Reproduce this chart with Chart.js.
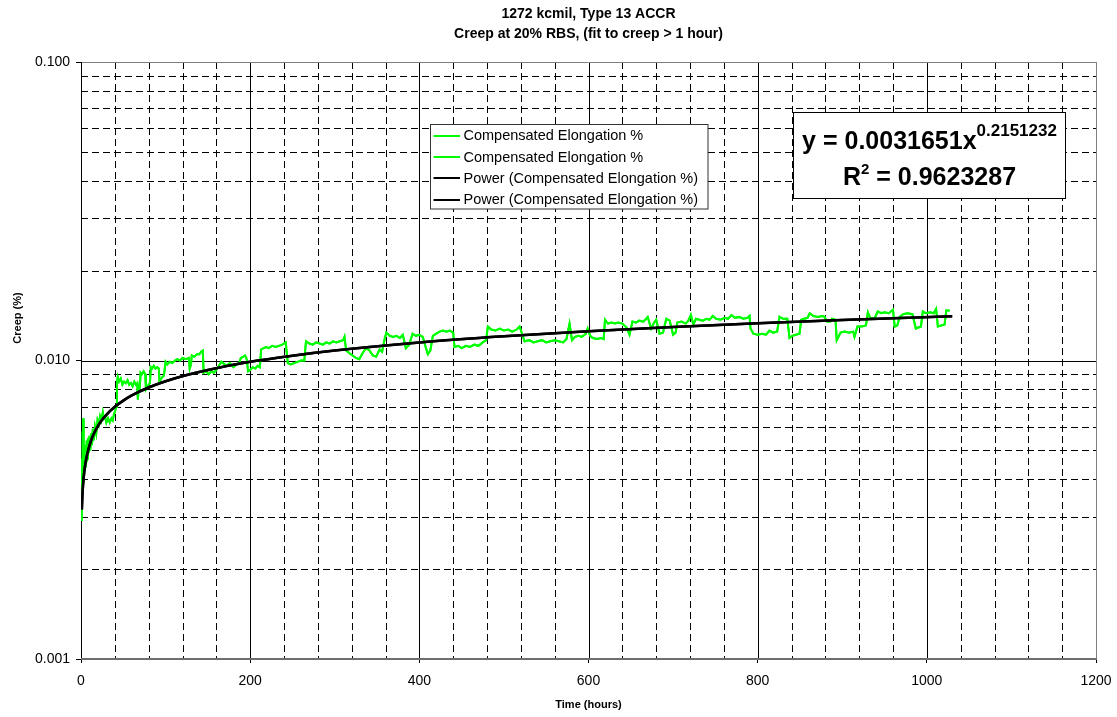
<!DOCTYPE html>
<html><head><meta charset="utf-8">
<script src="https://cdn.jsdelivr.net/npm/chart.js@4.4.1/dist/chart.umd.min.js"></script>
<style>html,body{margin:0;padding:0;background:#fff;}#wrap{width:1117px;height:717px;}</style>
</head><body><div id="wrap"><canvas id="c" width="1117" height="717"></canvas></div>
<script>
const titleLines = ['1272 kcmil, Type 13 ACCR', 'Creep at 20% RBS, (fit to creep > 1 hour)'];
const xAxisTitle = 'Time (hours)';
const yAxisTitle = 'Creep (%)';
const seriesLabels = ['Compensated Elongation %', 'Compensated Elongation %', 'Power (Compensated Elongation %)', 'Power (Compensated Elongation %)'];
const xTickValues = [0, 200, 400, 600, 800, 1000, 1200];
const yTickValues = [0.001, 0.01, 0.1];
const equationMain = 'y = 0.0031651x';
const equationExponent = '0.2151232';
const rSquaredValue = '0.9623287';

const timeHours = [0.2,0.5,0.8,1.1,1.4,1.7,2.0,2.3,2.6,2.9,3.3,3.7,4.2,4.8,5.4,6.0,6.7,7.4,8.2,9.0,10,11,12,13,14,15,16.5,18,19.5,21,22.5,24,25.8,27,28.5,30,32,34,36,37.5,39,40.5,41.5,
42.5,43.5,45,47,49,51,53,55,57,59,61,63,65,66.5,67.2,68,69.5,70.5,72,74,76,76.8,78,80,81.5,82.5,84,86,88,90,92,92.8,94,96,98,100,102,105,108,111,114,117,120,124,127.5,128.5,130,131,134,137,140,142,144,
145,148,151,154,157,160,163,166,168,172,176,180,184,187,189,192,194,196,197.5,200,203,206,209,211.5,213,216,219,222,226,230,234,238,242,244.5,248,252,256,260,264,266,270,274,278,282,286,290,294,298,302,306,310,311.5,313.5,317,321,325,329,333,337,341,345,349,353,356,359,361,365,369,373,377,380.5,384,388,392,396,400,404,407,410,413,416,420,424,428,432,436,440,441.6,446,450,455,460,465,470,475,479,481,485,490,495,500,505,510,515,518.5,524.4,530,535,540,545,550,555,560,565,570,574,577.6,579,580.5,584,588,592,597,599,602,605,610,615,618,619.5,623,627,631,635,640,645,648.5,652,656,660,665,670,674,677,680,684,688,692,696,700,703,705,710,715,718,721,724,727,731,735,740,743,747,751,756,761,765,769,773,778,783,788,790.4,791.5,795,800,805,810,814,818,823,825.8,830,835,837.7,841,845,849.5,851.5,855,859,861.5,866,871,876,879,882,886,888,892,893.5,898,903,908,913,914.5,918,923,928,930.3,933,938,942,946,950,955,960,962,965,968,972,977,983,987,990,993,995.3,999,1004,1008,1011,1013,1017,1021,1023,1027];
const creepPct = [0.0031,0.0029,0.0038,0.0034,0.0047,0.0040,0.0058,0.0044,0.0064,0.0046,0.0053,0.0043,0.0050,0.0044,0.0052,0.0046,0.0054,0.0047,0.0055,0.0049,0.0056,0.0050,0.0057,0.0052,0.0059,0.0054,0.0060,0.0057,0.0063,0.0061,0.0065,0.0063,0.0067,0.0064,0.0065,0.0062,0.0064,0.0062,0.0064,0.0063,0.0066,0.0068,0.0070,
0.0084,0.0088,0.0085,0.0087,0.0083,0.0085,0.0084,0.0086,0.0083,0.0084,0.0082,0.0085,0.0083,0.0084,0.0074,0.0079,0.0081,0.0091,0.0090,0.0092,0.0090,0.0080,0.0081,0.0083,0.0084,0.0095,0.0094,0.0096,0.0094,0.0095,0.0094,0.0085,0.0086,0.0088,0.0089,0.0099,0.0097,0.0099,0.0098,0.0100,0.0101,0.0100,0.0102,0.0101,0.0102,0.0094,0.0097,0.0104,0.0103,0.0105,0.0105,0.0107,0.0108,
0.0091,0.0092,0.0090,0.0092,0.0091,0.0093,0.0096,0.0099,0.0098,0.0096,0.0098,0.0095,0.0097,0.0098,0.0102,0.0103,0.0104,0.0101,0.0092,0.0093,0.0095,0.0094,0.0096,0.0095,0.0109,0.0110,0.0111,0.0110,0.0112,0.0111,0.0112,0.0113,0.0115,0.0098,0.0097,0.0098,0.0099,0.0100,0.0100,0.0116,0.0114,0.0113,0.0115,0.0114,0.0113,0.0115,0.0114,0.0116,0.0115,0.0116,0.0117,0.0120,0.0108,0.0106,0.0104,0.0102,0.0101,0.0106,0.0110,0.0108,0.0104,0.0103,0.0109,0.0107,0.0118,0.0124,0.0121,0.0120,0.0121,0.0119,0.0122,0.0110,0.0113,0.0123,0.0121,0.0122,0.0120,0.0112,0.0105,0.0108,0.0121,0.0123,0.0125,0.0126,0.0125,0.0126,0.0124,0.0111,0.0112,0.0110,0.0112,0.0111,0.0113,0.0112,0.0115,0.0117,0.0130,0.0127,0.0126,0.0128,0.0126,0.0127,0.0125,0.0127,0.0130,0.0116,0.0117,0.0115,0.0116,0.0117,0.0115,0.0116,0.0117,0.0116,0.0115,0.0118,0.0133,0.0125,0.0117,0.0120,0.0121,0.0120,0.0123,0.0128,0.0121,0.0119,0.0118,0.0119,0.0118,0.0137,0.0133,0.0134,0.0133,0.0134,0.0133,0.0129,0.0122,0.0135,0.0134,0.0136,0.0135,0.0140,0.0128,0.0133,0.0137,0.0123,0.0124,0.0138,0.0136,0.0122,0.0124,0.0134,0.0135,0.0133,0.0136,0.0142,0.0132,0.0138,0.0137,0.0136,0.0138,0.0137,0.0141,0.0138,0.0137,0.0139,0.0138,0.0142,0.0139,0.0140,0.0138,0.0139,0.0141,0.0128,0.0123,0.0122,0.0123,0.0122,0.0126,0.0124,0.0125,0.0140,0.0138,0.0138,0.0119,0.0121,0.0122,0.0123,0.0137,0.0138,0.0139,0.0144,0.0141,0.0140,0.0141,0.0140,0.0135,0.0135,0.0138,0.0137,0.0117,0.0124,0.0125,0.0124,0.0125,0.0120,0.0130,0.0130,0.0131,0.0145,0.0139,0.0138,0.0146,0.0144,0.0145,0.0144,0.0148,0.0130,0.0131,0.0140,0.0143,0.0144,0.0143,0.0128,0.0129,0.0130,0.0146,0.0144,0.0145,0.0144,0.0149,0.0130,0.0131,0.0132,0.0147,0.0147];

const trendHours = [1,1.5,2,3,4,5,7,10,13,16,20,25,30,40,50,60,80,100,125,150,200,250,300,400,500,600,700,800,900,1030];
const trendCreep = [0.00317,0.00345,0.00367,0.00401,0.00426,0.00448,0.00481,0.00519,0.00550,0.00575,0.00603,0.00633,0.00658,0.00700,0.00734,0.00764,0.00812,0.00852,0.00894,0.00930,0.00990,0.01038,0.01080,0.01149,0.01205,0.01253,0.01296,0.01333,0.01367,0.01408];

const FONT = "'Liberation Sans', Arial, Helvetica, sans-serif";
Chart.defaults.font.family = FONT;
Chart.defaults.color = '#000';

const greenPts = timeHours.map((x, i) => ({x: x, y: creepPct[i]}));
const trendPts = trendHours.map((x, i) => ({x: x, y: trendCreep[i]}));

function hline(ctx, x1, x2, y) { ctx.beginPath(); ctx.moveTo(x1, y); ctx.lineTo(x2, y); ctx.stroke(); }
function vline(ctx, x, y1, y2) { ctx.beginPath(); ctx.moveTo(x, y1); ctx.lineTo(x, y2); ctx.stroke(); }

const gridPlugin = {
  id: 'excelGrid',
  beforeDatasetsDraw(chart) {
    const ctx = chart.ctx, a = chart.chartArea, xs = chart.scales.x, ys = chart.scales.y;
    const L = a.left, R = a.right, T = a.top, B = a.bottom;
    const px = v => Math.round(xs.getPixelForValue(v)) + 0.5;
    const py = v => Math.round(ys.getPixelForValue(v)) + 0.5;
    ctx.save();
    ctx.lineWidth = 1;
    ctx.strokeStyle = '#000';
    ctx.setLineDash([7, 4]);
    [0.001, 0.01].forEach(d => { for (let k = 2; k <= 9; k++) hline(ctx, L, R, py(k * d)); });
    for (let v = 40; v < 1200; v += 40) { if (v % 200 !== 0) vline(ctx, px(v), T, B); }
    ctx.setLineDash([]);
    hline(ctx, L, R, py(0.01));
    for (let v = 200; v < 1200; v += 200) vline(ctx, px(v), T, B);
    ctx.strokeStyle = '#808080';
    hline(ctx, L, R, py(0.1));
    vline(ctx, px(1200), T, B);
    ctx.strokeStyle = '#000';
    vline(ctx, px(0), T, B + 1);
    ctx.fillStyle = '#6e6e6e';
    ctx.fillRect(L, Math.round(B) - 1, R - L + 1, 2);
    ctx.restore();
  }
};

const overlayPlugin = {
  id: 'excelOverlay',
  afterDatasetsDraw(chart) {
    const ctx = chart.ctx;
    ctx.save();
    // legend
    ctx.fillStyle = '#fff';
    ctx.fillRect(430.5, 124.5, 277.5, 84.5);
    ctx.strokeStyle = '#333';
    ctx.lineWidth = 1;
    ctx.strokeRect(430.5, 124.5, 277.5, 84.5);
    ctx.font = '14.5px ' + FONT;
    ctx.textBaseline = 'middle';
    ctx.textAlign = 'left';
    chart.data.datasets.forEach((ds, i) => {
      const yy = 135.8 + i * 21.3;
      ctx.strokeStyle = ds.borderColor;
      ctx.lineWidth = 2;
      hline(ctx, 433.5, 460, Math.round(yy));
      ctx.fillStyle = '#000';
      ctx.fillText(ds.label, 463.5, yy + 0.5);
    });
    // equation box
    ctx.fillStyle = '#fff';
    ctx.fillRect(793.5, 112.5, 272, 86);
    ctx.strokeStyle = '#000';
    ctx.lineWidth = 1;
    ctx.strokeRect(793.5, 112.5, 272, 86);
    const cx = 929.5;
    ctx.fillStyle = '#000';
    ctx.textBaseline = 'alphabetic';
    const big = 'bold 25px ' + FONT, sup = 'bold 17px ' + FONT, sup2 = 'bold 15px ' + FONT;
    ctx.font = big; const w1 = ctx.measureText(equationMain).width;
    ctx.font = sup; const w2 = ctx.measureText(equationExponent).width;
    let sx = cx - (w1 + w2) / 2;
    ctx.font = big; ctx.fillText(equationMain, sx, 148.5);
    ctx.font = sup; ctx.fillText(equationExponent, sx + w1, 135.5);
    const rest = ' = ' + rSquaredValue;
    ctx.font = big; const wr = ctx.measureText('R').width, wrest = ctx.measureText(rest).width;
    ctx.font = sup2; const w2b = ctx.measureText('2').width;
    sx = cx - (wr + w2b + wrest) / 2;
    ctx.font = big; ctx.fillText('R', sx, 184.5);
    ctx.font = sup2; ctx.fillText('2', sx + wr, 174);
    ctx.font = big; ctx.fillText(rest, sx + wr + w2b, 184.5);
    // y axis title
    ctx.translate(18, 318);
    ctx.rotate(-Math.PI / 2);
    ctx.font = 'bold 11px ' + FONT;
    ctx.textAlign = 'center';
    ctx.textBaseline = 'middle';
    ctx.fillText(yAxisTitle, 0, 0);
    ctx.restore();
  }
};

new Chart(document.getElementById('c').getContext('2d'), {
  type: 'line',
  data: {
    datasets: [
      {label: seriesLabels[0], data: greenPts, borderColor: '#00ff00', borderWidth: 2, pointRadius: 0, tension: 0, order: 2},
      {label: seriesLabels[1], data: greenPts, borderColor: '#00ff00', borderWidth: 2, pointRadius: 0, tension: 0, order: 3},
      {label: seriesLabels[2], data: trendPts, borderColor: '#000000', borderWidth: 2.5, pointRadius: 0, cubicInterpolationMode: 'monotone', order: 0},
      {label: seriesLabels[3], data: trendPts, borderColor: '#000000', borderWidth: 2.5, pointRadius: 0, cubicInterpolationMode: 'monotone', order: 1}
    ]
  },
  options: {
    responsive: false,
    animation: false,
    devicePixelRatio: 1,
    layout: {padding: {left: 0, right: 21, top: 0, bottom: 0}},
    plugins: {
      legend: {display: false},
      tooltip: {enabled: false},
      title: {display: true, text: titleLines, fullSize: false, color: '#000',
        font: {size: 14, weight: 'bold', lineHeight: 1.43}, padding: {top: 4, bottom: 18}}
    },
    scales: {
      x: {
        type: 'linear', min: 0, max: 1200,
        afterBuildTicks: s => { s.ticks = xTickValues.map(v => ({value: v})); },
        ticks: {font: {size: 14}, padding: 10, maxRotation: 0, autoSkip: false, color: '#000', callback: v => String(v)},
        grid: {drawOnChartArea: false, drawTicks: true, tickLength: 4, color: '#000'},
        border: {display: false},
        title: {display: true, text: xAxisTitle, color: '#000', font: {size: 11, weight: 'bold'}, padding: {top: 0, bottom: 5}},
        afterFit: s => { s.height = 58; s.paddingLeft = 0; s.paddingRight = 0; }
      },
      y: {
        type: 'logarithmic', min: 0.001, max: 0.1,
        afterBuildTicks: s => { s.ticks = yTickValues.map(v => ({value: v})); },
        ticks: {font: {size: 14}, padding: 6, color: '#000', callback: v => Number(v).toFixed(3)},
        grid: {drawOnChartArea: false, drawTicks: true, tickLength: 5, color: '#000'},
        border: {display: false},
        afterFit: s => { s.width = 81; s.paddingTop = 0; s.paddingBottom = 0; }
      }
    }
  },
  plugins: [gridPlugin, overlayPlugin]
});
</script>
</body></html>
